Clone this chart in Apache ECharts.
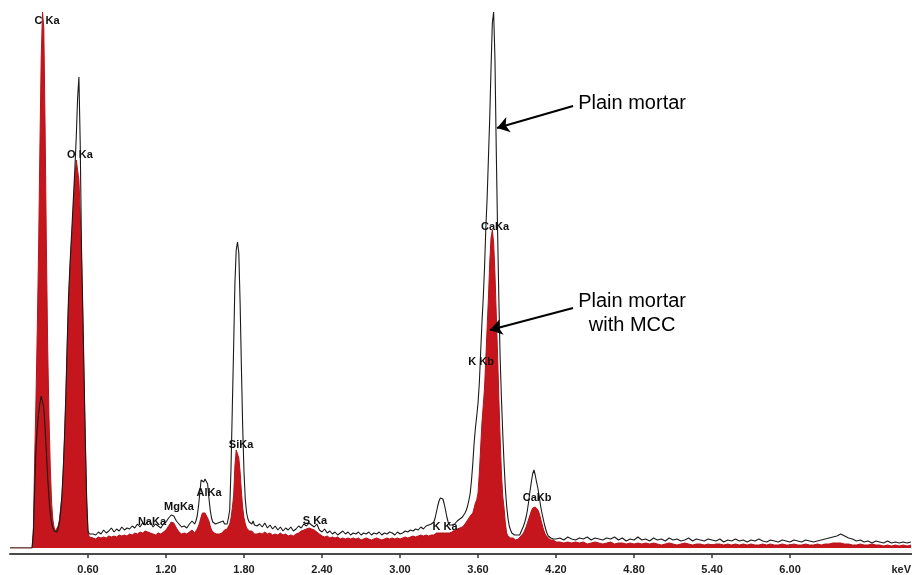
<!DOCTYPE html>
<html><head><meta charset="utf-8">
<script src="https://cdn.jsdelivr.net/npm/echarts@6.0.0/dist/echarts.min.js"></script>
<style>html,body{margin:0;padding:0;background:#fff}#c{width:912px;height:575px}</style>
</head><body><div id="c"></div>
<script>
// ---- Spectrum data (energy in keV, counts in chart units) ----
// Segment A: flat start
const energyA = [0.00, 0.17];
const mccA    = [0, 0];
const plainA  = [0, 0];
// Segment B: C Ka and O Ka peaks
const energyB = [0.18,0.19,0.20,0.21,0.22,0.23,0.24,0.25,0.26,0.27,0.28,0.29,0.30,0.31,0.32,0.33,0.34,0.35,0.36,0.37,0.38,0.39,
                 0.40,0.41,0.42,0.43,0.44,0.45,0.46,0.47,0.48,0.49,0.50,0.51,0.52,0.53,0.54,0.55,0.56,0.57,0.58,0.59,0.60,0.61,0.62];
const mccB    = [20,90,150,220,300,400,490,536,520,420,300,200,130,80,45,28,20,17,18,22,28,40,
                 52,78,110,150,200,245,275,300,322,348,372,388,386,368,335,290,230,165,100,45,15,11,10];
const plainB  = [15,60,100,120,135,145,152,150,140,120,95,70,50,35,25,20,17,15,16,19,25,37,
                 54,80,114,155,205,250,280,305,330,356,382,412,450,471,405,300,238,170,104,48,17,14,13];
// Segment C: Na Ka, Mg Ka region
const energyC = [0.64,0.66,0.68,0.70,0.72,0.74,0.76,0.78,0.80,0.82,0.84,0.86,0.88,0.90,0.92,0.94,0.96,0.98,1.00,1.02,
                 1.04,1.06,1.08,1.10,1.12,1.14,1.16,1.18,1.20,1.22,1.24,1.26,1.28,1.30,1.32,1.34,1.36,1.38,1.40];
const mccC    = [10,9,11,10,11,10,12,11,12,11,13,12,13,12,14,13,15,14,16,15,
                 17,16,15,14,13,15,14,16,18,22,26,25,20,16,14,15,14,16,18];
const plainC  = [14,13,16,14,18,15,17,20,16,19,17,21,18,20,19,22,20,24,21,25,
                 23,27,26,21,24,22,20,24,26,30,33,32,27,24,21,22,20,24,27];
// Segment D: Al Ka, Si Ka peaks
const energyD = [1.41,1.42,1.43,1.44,1.45,1.46,1.47,1.48,1.49,1.50,1.51,1.52,1.53,1.54,1.55,1.56,1.57,1.58,1.59,1.60,
                 1.61,1.62,1.63,1.64,1.65,1.66,1.67,1.68,1.69,1.70,1.71,1.72,1.73,1.74,1.75,1.76,1.77,1.78,1.79,1.80,
                 1.81,1.82,1.83,1.84,1.85,1.86,1.87,1.88,1.89,1.90];
const mccD    = [17,15,17,19,22,26,31,35,36,35,33,30,27,22,18,16,15,16,14,15,
                 14,16,15,17,18,19,19,20,24,30,40,52,82,98,100,90,76,56,40,30,
                 24,20,18,17,16,17,15,14,16,14];
const plainD  = [26,24,27,32,42,55,68,70,66,69,71,64,50,38,30,26,28,24,22,25,
                 23,26,24,27,24,22,24,30,38,80,140,200,265,298,306,295,245,180,120,75,
                 48,35,29,26,25,24,27,23,25,22];
// Segment E: S Ka region and background
const energyE = [1.92,1.94,1.96,1.98,2.00,2.02,2.04,2.06,2.08,2.10,2.12,2.14,2.16,2.18,2.20,2.22,2.24,2.26,2.28,2.30,
                 2.32,2.34,2.36,2.38,2.40,2.42,2.44,2.46,2.48,2.50,2.52,2.54,2.56,2.58,2.60,2.62,2.64,2.66,2.68,2.70,
                 2.72,2.74,2.76,2.78,2.80,2.82,2.84,2.86,2.88,2.90,2.92,2.94,2.96,2.98,3.00,3.02,3.04,3.06,3.08,3.10,
                 3.12,3.14,3.16,3.18,3.20];
const mccE    = [15,14,16,14,15,13,14,13,15,13,14,12,13,12,14,15,17,18,19,20,
                 19,18,16,14,12,11,12,10,11,10,11,9,10,9,10,9,10,9,10,8,
                 9,10,9,8,9,10,9,8,9,10,9,10,9,10,9,10,11,10,11,12,
                 11,12,13,12,13];
const plainE  = [24,21,25,20,23,19,22,18,21,17,20,18,21,17,19,22,20,24,22,25,
                 23,21,24,18,16,19,15,17,14,16,13,15,17,14,16,13,15,14,16,13,
                 15,14,16,13,15,14,16,13,15,14,16,15,13,16,14,15,17,16,18,17,
                 19,18,21,19,22];
// Segment F: K Ka, Ca Ka, Ca Kb peaks
const energyF = [3.21,3.22,3.23,3.24,3.25,3.26,3.27,3.28,3.29,3.30,3.31,3.32,3.33,3.34,3.35,3.36,3.37,3.38,3.39,3.40,
                 3.41,3.42,3.43,3.44,3.45,3.46,3.47,3.48,3.49,3.50,3.51,3.52,3.53,3.54,3.55,3.56,3.57,3.58,3.59,3.60,
                 3.61,3.62,3.63,3.64,3.65,3.66,3.67,3.68,3.69,3.70,3.71,3.72,3.73,3.74,3.75,3.76,3.77,3.78,3.79,3.80,
                 3.81,3.82,3.83,3.84,3.85,3.86,3.87,3.88,3.89,3.90,3.91,3.92,3.93,3.94,3.95,3.96,3.97,3.98,3.99,4.00,
                 4.01,4.02,4.03,4.04,4.05,4.06,4.07,4.08,4.09,4.10,4.11,4.12,4.13,4.14,4.15,4.16,4.17,4.18,4.19,4.20];
const mccF    = [13,12,14,13,14,13,14,15,14,15,16,15,16,15,16,15,16,15,17,16,
                 17,18,17,19,18,20,19,21,22,24,26,28,30,32,30,35,40,45,48,55,
                 75,100,125,142,160,190,220,250,285,310,318,305,275,235,195,150,110,75,52,40,
                 25,15,12,11,10,9,10,9,8,9,9,10,12,13,15,18,21,25,29,33,
                 37,40,41,41,40,38,35,30,25,20,16,13,11,10,9,8,7,8,7,6];
const plainF  = [20,23,21,24,22,26,30,36,42,47,50,51,49,44,38,31,26,23,21,23,
                 22,24,25,27,26,29,28,31,33,35,38,42,48,55,68,85,105,120,132,145,
                 165,195,225,250,280,320,350,390,430,480,525,536,490,400,320,250,190,150,115,85,
                 60,42,30,22,18,15,14,13,15,13,14,13,16,19,22,26,31,38,47,57,
                 66,74,78,73,66,60,52,43,36,30,24,19,15,12,11,10,11,9,10,9];
// Segment G: high-energy background
const energyG = [4.23,4.26,4.29,4.32,4.35,4.38,4.41,4.44,4.47,4.50,4.53,4.56,4.59,4.62,4.65,4.68,4.71,4.74,4.77,4.80,
                 4.83,4.86,4.89,4.92,4.95,4.98,5.01,5.04,5.07,5.10,5.13,5.16,5.19,5.22,5.25,5.28,5.31,5.34,5.37,5.40,
                 5.43,5.46,5.49,5.52,5.55,5.58,5.61,5.64,5.67,5.70,5.73,5.76,5.79,5.82,5.85,5.88,5.91,5.94,5.97,6.00,
                 6.03,6.06,6.09,6.12,6.15,6.18,6.21,6.24,6.27,6.30,6.33,6.36,6.39,6.42,6.45,6.48,6.51,6.54,6.57,6.60,
                 6.63,6.66,6.69,6.72,6.75,6.78,6.81,6.84,6.87,6.90,6.93];
const mccG    = [6,5,6,5,6,5,6,4,5,6,5,4,5,6,4,5,5,4,5,4,
                 5,4,5,4,5,4,3,4,5,4,3,4,5,4,3,4,4,3,4,3,
                 4,4,3,4,3,4,3,4,3,4,3,3,4,3,4,3,3,4,3,3,
                 4,3,3,4,3,3,4,3,4,4,5,5,5,4,4,3,3,4,3,3,
                 4,3,3,2,3,2,3,2,3,2,3];
const plainG  = [10,8,11,9,8,10,9,11,8,10,9,8,10,9,11,8,10,7,9,8,
                 11,8,9,7,10,8,9,7,10,8,9,7,8,10,7,9,8,7,9,8,
                 7,9,6,8,7,9,7,8,6,8,7,9,7,6,8,7,6,8,7,6,
                 8,7,6,8,7,6,7,8,9,10,11,12,14,12,10,9,7,8,6,7,
                 5,7,6,5,7,5,6,5,6,5,6];

const energy = [].concat(energyA, energyB, energyC, energyD, energyE, energyF, energyG);
const withMCC = [].concat(mccA, mccB, mccC, mccD, mccE, mccF, mccG);
const plainMortar = [].concat(plainA, plainB, plainC, plainD, plainE, plainF, plainG);

// ---- Axis ticks ----
const TICK_VALUES = [0.6, 1.2, 1.8, 2.4, 3.0, 3.6, 4.2, 4.8, 5.4, 6.0];
const TICK_LABELS = ['0.60','1.20','1.80','2.40','3.00','3.60','4.20','4.80','5.40','6.00'];

// ---- Peak annotations (position in keV / counts) ----
const PEAK_NAMES = ['C Ka','O Ka','NaKa','MgKa','AlKa','SiKa','S Ka','K Ka','CaKa','K Kb','CaKb'];
const PEAK_KEV   = [0.285, 0.538, 1.092, 1.300, 1.531, 1.777, 2.346, 3.346, 3.731, 3.623, 4.054];
const PEAK_Y     = [527, 393, 26, 41, 55, 103, 27, 21, 321, 186, 50];

const NOTE_TEXT = ['Plain mortar', 'Plain mortar\nwith MCC'];
const NOTE_POS  = [[4.785, 445], [4.785, 235]];
const ARROWS    = [[[4.331, 442], [3.746, 420]], [[4.331, 240], [3.692, 218]]];

const mccData = energy.map((e, i) => [e, withMCC[i]]);
const plainData = energy.map((e, i) => [e, plainMortar[i]]);

const chart = echarts.init(document.getElementById('c'));
const FONT = 'Liberation Sans, Arial, sans-serif';
chart.setOption({
  animation: false,
  backgroundColor: '#fff',
  grid: { left: 10, right: 0, top: 10, bottom: 27 },
  xAxis: [{
    type: 'value', min: 0, max: 6.938, position: 'bottom', offset: 6,
    axisLine: { show: true, onZero: false, lineStyle: { color: '#4a4a4a', width: 2 } },
    axisTick: { show: true, customValues: TICK_VALUES, length: 4, lineStyle: { color: '#333', width: 1.5 } },
    axisLabel: {
      show: true, customValues: TICK_VALUES, margin: 10,
      formatter: v => { const k = TICK_VALUES.findIndex(t => Math.abs(t - v) < 1e-6); return k >= 0 ? TICK_LABELS[k] : ''; },
      color: '#222', fontSize: 11, fontWeight: 'bold', fontFamily: FONT
    },
    splitLine: { show: false }
  }, {
    type: 'value', min: 0, max: 6.938, position: 'bottom', offset: 6,
    axisLine: { show: false },
    axisTick: { show: true, inside: true, customValues: TICK_VALUES, length: 4, lineStyle: { color: '#333', width: 1.5 } },
    axisLabel: { show: false },
    splitLine: { show: false }
  }],
  yAxis: { type: 'value', min: 0, max: 538, show: false, splitLine: { show: false } },
  graphic: [{
    type: 'text', right: 1, top: 564,
    style: { text: 'keV', font: 'bold 11px ' + FONT, fill: '#222' }
  }],
  series: [{
    name: 'Plain mortar with MCC', type: 'line', data: mccData, xAxisIndex: 0,
    symbol: 'none', silent: true, z: 2,
    lineStyle: { color: '#b8121a', width: 1 },
    areaStyle: { color: '#c4161c', opacity: 1 }
  }, {
    name: 'Plain mortar', type: 'line', data: plainData, xAxisIndex: 0,
    symbol: 'none', silent: true, z: 3,
    lineStyle: { color: '#1a1a1a', width: 1.1 },
    markPoint: {
      symbol: 'circle', symbolSize: 1, silent: true,
      itemStyle: { color: 'rgba(0,0,0,0)' },
      label: { show: true, position: 'inside', formatter: '{b}', color: '#111', fontSize: 11, fontWeight: 'bold', fontFamily: FONT },
      data: PEAK_NAMES.map((n, i) => ({ name: n, coord: [PEAK_KEV[i], PEAK_Y[i]] })).concat(
        NOTE_TEXT.map((t, i) => ({ name: t, coord: NOTE_POS[i],
          label: { fontSize: 20, fontWeight: 'normal', lineHeight: 24, align: 'center', color: '#000' } })))
    },
    markLine: {
      silent: true, symbol: ['none', 'arrow'], symbolSize: 12,
      lineStyle: { color: '#000', width: 2, type: 'solid' },
      label: { show: false },
      data: ARROWS.map(a => [{ coord: a[0] }, { coord: a[1] }])
    }
  }]
});
</script>
</body></html>
